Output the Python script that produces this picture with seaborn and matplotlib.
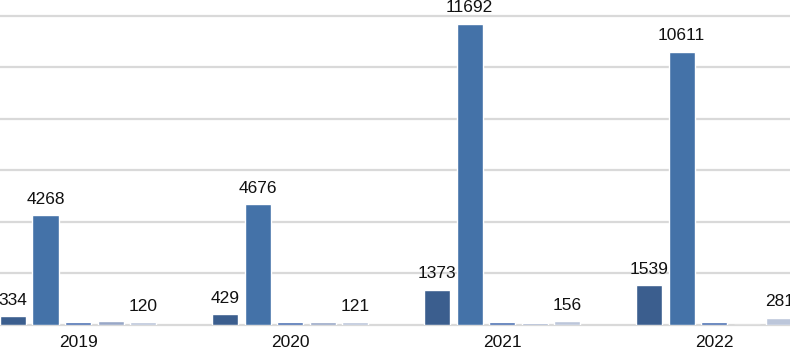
import matplotlib
matplotlib.use("Agg")
import matplotlib.pyplot as plt
import pandas as pd
import seaborn as sns

years = ["2019", "2020", "2021", "2022"]
series = ["Series 1", "Series 2", "Series 3", "Series 4", "Series 5"]
s1 = [334, 429, 1373, 1539]
s2 = [4268, 4676, 11692, 10611]
s3 = [115, 110, 110, 105]
s4 = [140, 115, 65, 0]
s5 = [120, 121, 156, 281]
labelled = ["Series 1", "Series 2", "Series 5"]
colors = ["#3b5e8e", "#4472a8", "#4e72b3", "#98a7c7", "#bcc6da"]

rows = []
for name, vals in zip(series, [s1, s2, s3, s4, s5]):
    for y, v in zip(years, vals):
        rows.append({"year": y, "series": name, "value": v})
df = pd.DataFrame(rows)

sns.set_style("white")
plt.rcParams["font.family"] = ["Liberation Sans", "DejaVu Sans"]

fig = plt.figure(figsize=(7.9, 3.52), dpi=100)
ax = fig.add_axes([0, 27 / 352, 1, 325 / 352])

sns.barplot(
    data=df, x="year", y="value", hue="series", order=years, hue_order=series,
    palette=colors, width=0.767, gap=0.2, ax=ax, legend=False,
    saturation=1, zorder=3,
)

# value labels only on the series the reference labels
for cont, name in zip(ax.containers, series):
    if name in labelled:
        ax.bar_label(cont, fmt="%d", padding=6, fontsize=12.5, color="#111111")

ax.set_xlim(-0.368, 3.358)
ax.set_ylim(0, 12610)
ax.set_yticks(range(2000, 12001, 2000))
ax.yaxis.grid(True, color="#d9d9d9", linewidth=1.6, zorder=0)
ax.tick_params(axis="y", left=False, labelleft=False)
ax.tick_params(axis="x", bottom=False, labelsize=12.5, pad=4, colors="#111111")
ax.set_xlabel("")
ax.set_ylabel("")
for side in ["top", "left", "right"]:
    ax.spines[side].set_visible(False)
ax.spines["bottom"].set_color("#d9d9d9")
ax.spines["bottom"].set_linewidth(1.6)

fig.savefig("out.png", dpi=100)
